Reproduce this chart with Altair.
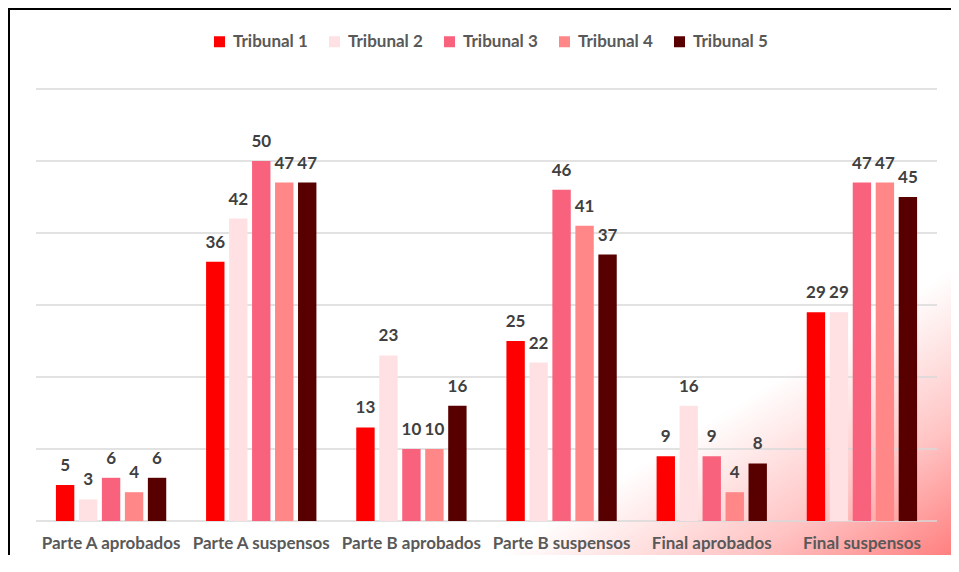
import altair as alt
import pandas as pd

categories = ["Parte A aprobados", "Parte A suspensos", "Parte B aprobados",
              "Parte B suspensos", "Final aprobados", "Final suspensos"]
series = ["Tribunal 1", "Tribunal 2", "Tribunal 3", "Tribunal 4", "Tribunal 5"]
tribunal1 = [5, 36, 13, 25, 9, 29]
tribunal2 = [3, 42, 23, 22, 16, 29]
tribunal3 = [6, 50, 10, 46, 9, 47]
tribunal4 = [4, 47, 10, 41, 4, 47]
tribunal5 = [6, 47, 16, 37, 8, 45]
colors = ["#FF0000", "#FFE1E4", "#F9627D", "#FF8787", "#580000"]
grid_values = [0, 10, 20, 30, 40, 50, 60]

rows = []
for s, vals in zip(series, [tribunal1, tribunal2, tribunal3, tribunal4, tribunal5]):
    for c, v in zip(categories, vals):
        rows.append({"categoria": c, "tribunal": s, "valor": v})
df = pd.DataFrame(rows)
grid_df = pd.DataFrame({"v": grid_values})
one = pd.DataFrame({"a": [0]})

W, H = 901, 432
PL, PT, PR, PB = 28, 81, 14, 34
FONT = "Lato"
FS = 17

yscale = alt.Scale(domain=[0, 60], nice=False, zero=True)
xscale = alt.Scale(domain=categories, paddingInner=0.25, paddingOuter=0.125)
offscale = alt.Scale(domain=series, paddingInner=0.2, paddingOuter=0.05)

bg = alt.Chart(one).mark_rect(
    fill=alt.Gradient(
        gradient="linear",
        stops=[alt.GradientStop(color="#FFFFFF", offset=0),
               alt.GradientStop(color="#FFC4C4", offset=0.55),
               alt.GradientStop(color="#FF8080", offset=1)],
        x1=0.74, y1=0.76, x2=1, y2=1,
    ),
    strokeWidth=0, strokeOpacity=0,
).encode(
    x=alt.value(-PL), x2=alt.value(W + PR),
    y=alt.value(-PT), y2=alt.value(H + PB),
)

frame_left = alt.Chart(one).mark_rule(color="#000000", strokeWidth=2).encode(
    x=alt.value(-PL + 1), y=alt.value(-PT), y2=alt.value(H + PB)
)
frame_top = alt.Chart(one).mark_rule(color="#000000", strokeWidth=2).encode(
    y=alt.value(-PT + 1), x=alt.value(-PL), x2=alt.value(W + PR)
)

grid = alt.Chart(grid_df).mark_rule(color="#D9D9D9", strokeWidth=1.5).encode(
    y=alt.Y("v:Q", scale=yscale, axis=None)
)

bars = alt.Chart(df).mark_bar().encode(
    x=alt.X("categoria:N", sort=categories, scale=xscale, title=None,
            axis=alt.Axis(labelAngle=0, domain=False, ticks=False, zindex=1,
                          labelFont=FONT, labelFontSize=FS, labelFontWeight="bold",
                          labelColor="#595959", labelPadding=14, labelLimit=200)),
    xOffset=alt.XOffset("tribunal:N", sort=series, scale=offscale),
    y=alt.Y("valor:Q", scale=yscale, axis=None),
    color=alt.Color("tribunal:N", sort=series,
                    scale=alt.Scale(domain=series, range=colors),
                    legend=alt.Legend(title=None, orient="none", direction="horizontal",
                                      legendX=175, legendY=-56, symbolType="square",
                                      symbolSize=121, symbolStrokeWidth=0,
                                      labelFont=FONT, labelFontSize=FS,
                                      labelFontWeight="bold", labelColor="#595959",
                                      columnPadding=18, labelOffset=5, padding=0)),
)

labels = alt.Chart(df).mark_text(
    dy=-10, baseline="bottom", font=FONT, fontSize=FS, fontWeight="bold", color="#404040"
).encode(
    x=alt.X("categoria:N", sort=categories, scale=xscale),
    xOffset=alt.XOffset("tribunal:N", sort=series, scale=offscale),
    y=alt.Y("valor:Q", scale=yscale),
    text=alt.Text("valor:Q"),
)

chart = alt.layer(bg, grid, bars, labels, frame_left, frame_top).properties(
    width=W, height=H,
    autosize=alt.AutoSizeParams(type="none"),
    padding={"left": PL, "top": PT, "right": PR, "bottom": PB},
).configure_view(stroke=None)

chart.save("out.html", embed_options={"renderer": "svg", "actions": False})
